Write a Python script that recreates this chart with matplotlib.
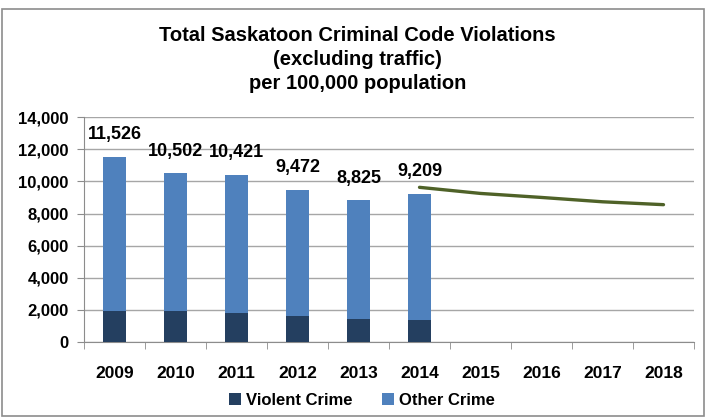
import numpy as np
import matplotlib.pyplot as plt
from matplotlib.patches import Rectangle

plt.rcParams['font.family'] = ['Liberation Sans', 'DejaVu Sans']

# data
years = ['2009', '2010', '2011', '2012', '2013', '2014', '2015', '2016', '2017', '2018']
totals = [11526, 10502, 10421, 9472, 8825, 9209]
violent = [1950, 1950, 1790, 1620, 1450, 1390]
trend_years = ['2014', '2015', '2016', '2017', '2018']
trend = [9630, 9250, 9000, 8730, 8550]

other = [t - v for t, v in zip(totals, violent)]

fig = plt.figure(figsize=(7.06, 4.17), dpi=100)
ax = fig.add_axes([0.119, 0.180, 0.864, 0.539])

# outer chart border
fig.patches.append(Rectangle((0.003, 0.002), 0.994, 0.976, transform=fig.transFigure,
                             fill=False, edgecolor='#8c8c8c', linewidth=1.2))

x = np.arange(len(years))
xb = x[:len(totals)]
w = 0.39
ax.bar(xb, violent, w, color='#243F60', label='Violent Crime', zorder=3)
ax.bar(xb, other, w, bottom=violent, color='#4F81BD', label='Other Crime', zorder=3)

for xi, t in zip(xb, totals):
    ax.annotate(f'{t:,}', (xi, t), xytext=(0, 16), textcoords='offset points',
                ha='center', va='center', fontsize=13, fontweight='bold')

xt = [years.index(y) for y in trend_years]
ax.plot(xt, trend, color='#4F6228', linewidth=2.4, solid_capstyle='round', zorder=4)

ax.set_xlim(-0.5, len(years) - 0.5)
ax.set_ylim(0, 14000)
ax.set_yticks(np.arange(0, 14001, 2000))
ax.set_yticklabels([f'{v:,}' for v in range(0, 14001, 2000)], fontsize=12, fontweight='bold')
ax.set_xticks(x)
ax.set_xticklabels(years, fontsize=12.5, fontweight='bold')
ax.set_xticks(np.arange(-0.5, len(years), 1), minor=True)
ax.tick_params(axis='x', which='major', length=0, pad=17)
ax.tick_params(axis='x', which='minor', length=5, color='#8c8c8c')
ax.tick_params(axis='y', length=5, color='#8c8c8c', pad=6)

ax.grid(axis='y', color='#a6a6a6', linewidth=1, zorder=0)
for s in ['top', 'right']:
    ax.spines[s].set_visible(False)
ax.spines['left'].set_color('#8c8c8c')
ax.spines['bottom'].set_color('#8c8c8c')

fig.text(0.506, 0.857, 'Total Saskatoon Criminal Code Violations\n(excluding traffic)\nper 100,000 population',
         ha='center', va='center', fontsize=14.5, fontweight='bold', linespacing=1.34)

fig.legend(loc='center', bbox_to_anchor=(0.513, 0.04), ncol=2, frameon=False,
           prop={'size': 12, 'weight': 'bold'}, handlelength=0.7, handleheight=0.7,
           handletextpad=0.3, columnspacing=1.8)

fig.savefig('out.png', dpi=100)
